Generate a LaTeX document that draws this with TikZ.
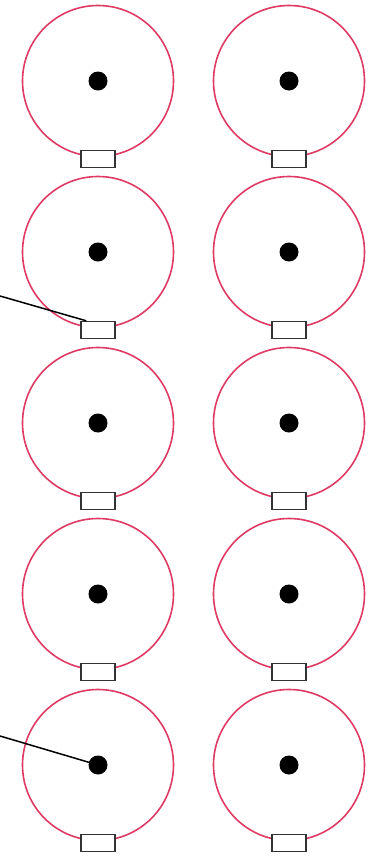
\documentclass[tikz,border=0pt]{standalone}
\usepackage{tikz}

\begin{document}
\begin{tikzpicture}[x=1pt, y=-1pt,
    ring/.style={circle, draw=ringred, line width=1.6pt, minimum size=151pt, inner sep=0pt},
    hub/.style={circle, fill=black, minimum size=19pt, inner sep=0pt},
    tab/.style={rectangle, draw=black!80, fill=white, line width=1.4pt, minimum width=34pt, minimum height=17pt, inner sep=0pt},
    leader/.style={draw=black, line width=1.5pt}]
  \definecolor{ringred}{RGB}{222,58,100}
  \useasboundingbox (0,0) rectangle (374,857);
  \foreach \col/\cx in {L/98,R/289} {
    \foreach \row/\cy in {1/81,2/252,3/423,4/594,5/765} {
      \node[ring] (ring\col\row) at (\cx,\cy) {};
      \node[hub] (hub\col\row) at (\cx,\cy) {};
      \node[tab] (tab\col\row) at (\cx,{\cy+78}) {};
    }
  }
  \coordinate (leadA) at (0,296);
  \coordinate (leadB) at (0,736);
  \draw[leader] (leadA) -- ([xshift=6pt]tabL2.north west);
  \draw[leader] (leadB) -- (hubL5.center);
\end{tikzpicture}
\end{document}
